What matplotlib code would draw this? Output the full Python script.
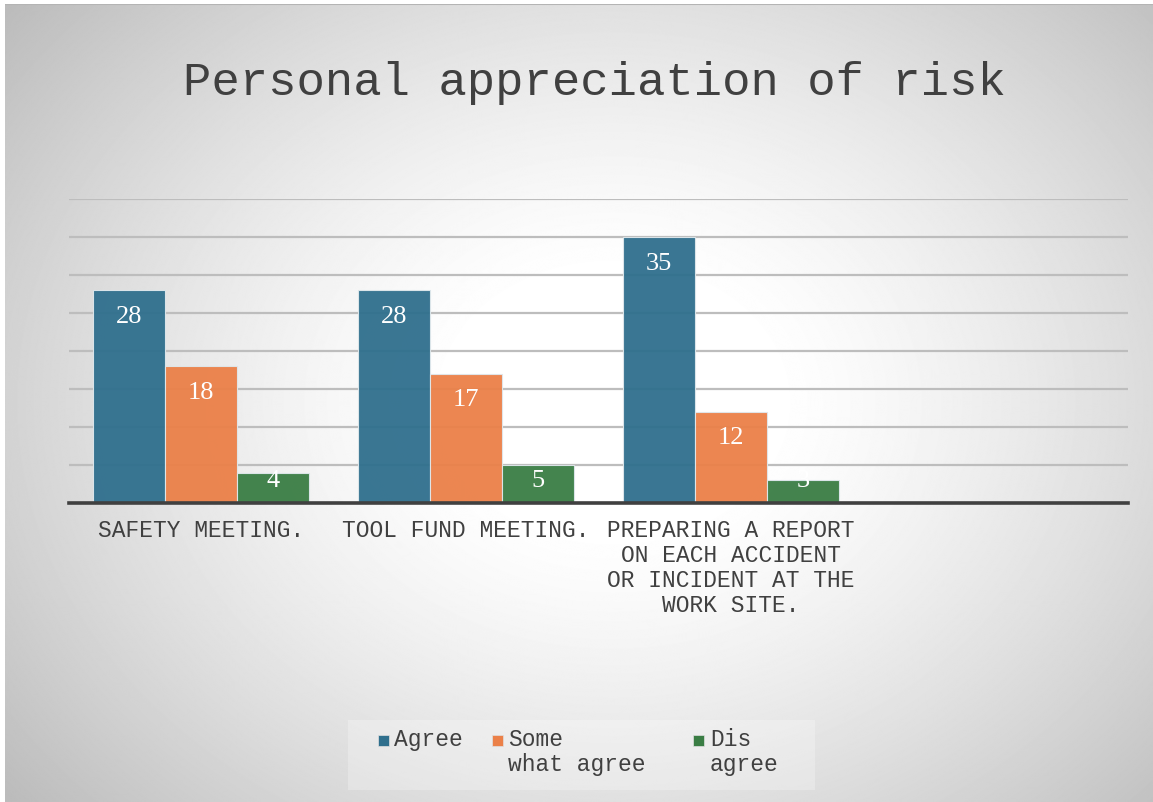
import matplotlib.pyplot as plt
from matplotlib.patches import Rectangle
import numpy as np

categories = [
    "SAFETY MEETING.",
    "TOOL FUND MEETING.",
    "PREPARING A REPORT\nON EACH ACCIDENT\nOR INCIDENT AT THE\nWORK SITE.",
    "",
]
agree = [28, 28, 35, None]
some_what_agree = [18, 17, 12, None]
dis_agree = [4, 5, 3, None]
series_names = ["Agree", "Some\nwhat agree", "Dis\nagree"]
colors = ["#2f6f8d", "#eb8048", "#3a7d44"]

W, H = 1153, 802
fig = plt.figure(figsize=(W / 100, H / 100), dpi=100)
fig.patch.set_facecolor("white")

# radial grey-to-white background
bg = fig.add_axes([5 / W, 0, 1 - 5 / W, 1 - 4 / H], zorder=0)
yy, xx = np.mgrid[0:H, 0:W]
r = np.hypot((xx - 610) / 700.0, (yy - 400) / 560.0)
shade = 1.0 - 0.22 * np.clip((r - 0.22) / 0.78, 0, 1.15) ** 1.3
bg.imshow(shade, cmap="gray", vmin=0, vmax=1, aspect="auto", extent=[0, 1, 0, 1])
bg.axhline(1, color="#b4b4b4", lw=1.5)
bg.axis("off")

ax = fig.add_axes([69 / W, 1 - 503 / H, (1128 - 69) / W, (503 - 199) / H], zorder=1)
ax.patch.set_alpha(0)

x = np.arange(len(categories))
width = 0.272
offsets = [-width, 0, width]
for data, off, color in zip([agree, some_what_agree, dis_agree], offsets, colors):
    vals = [v if v is not None else 0 for v in data]
    ax.bar(x + off, vals, width=width, color=color, alpha=0.95,
           edgecolor="#dfe8ec", linewidth=0.8, zorder=2)
    for xi, v in zip(x, data):
        if v is None:
            continue
        # labels sit just inside the bar top, but never below a floor
        ypos = max(v - 3.5, 2.9)
        ax.text(xi + off, ypos, str(v), ha="center", va="center",
                color="white", fontsize=19, family="Liberation Serif", zorder=3)

ax.set_xlim(-0.5, len(categories) - 0.5)
ax.set_ylim(0, 40)
ax.set_yticks(np.arange(0, 41, 5))
ax.yaxis.grid(True, color="#bdbdbd", lw=1.6, zorder=0)
ax.set_axisbelow(True)
ax.tick_params(axis="y", left=False, labelleft=False)
ax.tick_params(axis="x", bottom=False, pad=8)
ax.set_xticks(x)
ax.set_xticklabels(categories, family="Liberation Mono", fontsize=16.5,
                   color="#404040", linespacing=1.12)
for side in ["top", "right", "left"]:
    ax.spines[side].set_visible(False)
ax.spines["bottom"].set_color("#404040")
ax.spines["bottom"].set_linewidth(2.6)
ax.spines["bottom"].set_zorder(4)

fig.text(594 / W, 1 - 83 / H, "Personal appreciation of risk", ha="center",
         va="center", family="Liberation Mono", fontsize=34, color="#404040")

# legend box with entries
fig.patches.append(Rectangle((348 / W, 1 - 790 / H), (815 - 348) / W, 70 / H,
                             transform=fig.transFigure, facecolor="white",
                             alpha=0.25, edgecolor="none", zorder=2))
marker_x = [378, 492, 693]
text_x = [394, 508, 710]
for name, color, mx, tx in zip(series_names, colors, marker_x, text_x):
    fig.patches.append(Rectangle((mx / W, 1 - 746 / H), 11 / W, 11 / H,
                                 transform=fig.transFigure, facecolor=color,
                                 edgecolor="#e0e0e0", lw=0.5, zorder=3))
    fig.text(tx / W, 1 - 728 / H, name, ha="left", va="top",
             family="Liberation Mono", fontsize=16.5, color="#404040",
             linespacing=1.12, zorder=3)

fig.savefig("out.png", dpi=100)
